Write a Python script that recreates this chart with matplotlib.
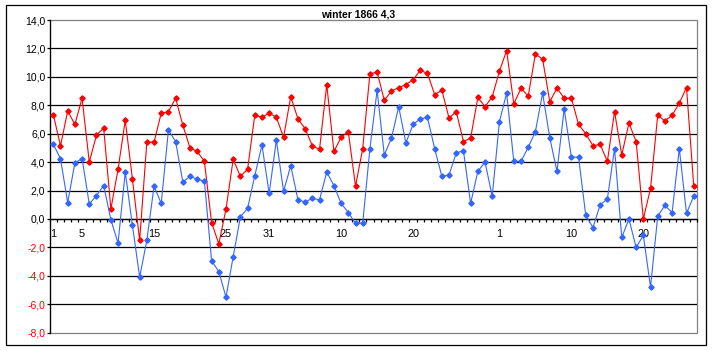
import matplotlib
matplotlib.use("Agg")
import matplotlib.pyplot as plt
import numpy as np
from matplotlib.patches import Rectangle

plt.rcParams['font.family'] = ['Liberation Sans', 'DejaVu Sans']

title = "winter 1866 4,3"

red = [7.35, 5.15, 7.6, 6.65, 8.5, 4.0, 5.9, 6.4, 0.7, 3.5, 6.95, 2.8, -1.5, 5.4, 5.4,
       7.45, 7.55, 8.5, 6.6, 5.0, 4.75, 4.05, -0.25, -1.75, 0.7, 4.2, 3.0, 3.5, 7.3, 7.15, 7.45,
       7.15, 5.75, 8.6, 7.05, 6.35, 5.15, 4.9, 9.45, 4.75, 5.75, 6.15, 2.3, 4.95, 10.2, 10.35,
       8.35, 9.0, 9.25, 9.45, 9.8, 10.45, 10.25, 8.75, 9.05, 7.1, 7.55, 5.45, 5.7, 8.55, 7.9,
       8.6, 10.4, 11.85, 8.1, 9.2, 8.65, 11.6, 11.25, 8.25, 9.2, 8.5, 8.5, 6.65, 6.0, 5.15, 5.25,
       4.05, 7.55, 4.5, 6.75, 5.45, 0.0, 2.15, 7.3, 6.9, 7.3, 8.15, 9.25, 2.35]

blue = [5.25, 4.25, 1.15, 3.95, 4.25, 1.05, 1.65, 2.35, -0.05, -1.7, 3.3, -0.45, -4.1, -1.5, 2.3,
        1.1, 6.25, 5.45, 2.6, 3.0, 2.8, 2.65, -2.95, -3.7, -5.5, -2.65, 0.15, 0.75, 3.05, 5.2, 1.8,
        5.55, 1.95, 3.75, 1.35, 1.2, 1.45, 1.35, 3.3, 2.35, 1.1, 0.45, -0.3, -0.3, 4.95, 9.05,
        4.5, 5.7, 7.9, 5.35, 6.65, 7.05, 7.15, 4.95, 3.0, 3.1, 4.65, 4.8, 1.1, 3.35, 4.0,
        1.6, 6.85, 8.85, 4.05, 4.05, 5.05, 6.15, 8.85, 5.7, 3.35, 7.75, 4.35, 4.35, 0.25, -0.6, 1.0,
        1.4, 4.95, -1.3, 0.0, -2.0, -1.15, -4.8, 0.2, 0.95, 0.45, 4.95, 0.4, 1.6]

xtick_pos = [0, 4, 14, 24, 30, 40, 50, 62, 72, 82]
xtick_labels = ['1', '5', '15', '25', '31', '10', '20', '1', '10', '20']
yticks = [-8, -6, -4, -2, 0, 2, 4, 6, 8, 10, 12, 14]

W, H = 713, 351
fig = plt.figure(figsize=(W / 100, H / 100), dpi=100)
L, R, T, B = 49.7, 697.3, 20.0, 332.7
ax = fig.add_axes([L / W, 1 - B / H, (R - L) / W, (B - T) / H])

n = len(red)
x = np.arange(n)

# gridlines
for yv in yticks[1:-1]:
    ax.axhline(yv, color='black', lw=0.9, zorder=1)

ax.plot(x, red, color='#FF0000', lw=0.8, marker='D', markersize=2.7, zorder=3)
ax.plot(x, blue, color='#3366FF', lw=0.8, marker='D', markersize=2.7, zorder=4)

ax.set_xlim(-0.5, n - 0.5)
ax.set_ylim(-8, 14)

for s in ['top', 'right']:
    ax.spines[s].set_visible(False)
ax.spines['left'].set_color('black')
ax.spines['left'].set_linewidth(0.9)
ax.spines['bottom'].set_position(('data', 0))
ax.spines['bottom'].set_color('black')
ax.spines['bottom'].set_linewidth(0.9)
ax.spines['bottom'].set_zorder(2)

# plot area border (grey)
ax.add_patch(Rectangle((0, 0), 1, 1, transform=ax.transAxes, fill=False,
                       edgecolor='#808080', lw=0.9, clip_on=False, zorder=0.5))

ax.set_yticks(yticks)
ax.set_yticklabels([f"{v:.1f}".replace('.', ',') for v in yticks])
for lab, v in zip(ax.get_yticklabels(), yticks):
    lab.set_color('#FF0000' if v < 0 else 'black')
ax.tick_params(axis='y', direction='out', length=2.3, width=0.9, pad=0.8,
               labelsize=7.5, color='black')

ax.set_xticks(xtick_pos)
ax.set_xticklabels(xtick_labels)
ax.set_xticks(np.arange(-0.5, n, 1.0), minor=True)
ax.tick_params(axis='x', which='major', length=0, pad=7, labelsize=7.8)
ax.tick_params(axis='x', which='minor', direction='out', length=2.3, width=0.9, color='black')

# chart outer border
fig.add_artist(Rectangle((5.5 / W, 1 - 345 / H), 700.5 / W, 340 / H,
                         transform=fig.transFigure, fill=False, edgecolor='black', lw=0.9))

fig.text(358 / W, 1 - 14.8 / H, title, ha='center', va='center',
         fontsize=7.5, fontweight='bold')

fig.savefig('out.png', dpi=100)
